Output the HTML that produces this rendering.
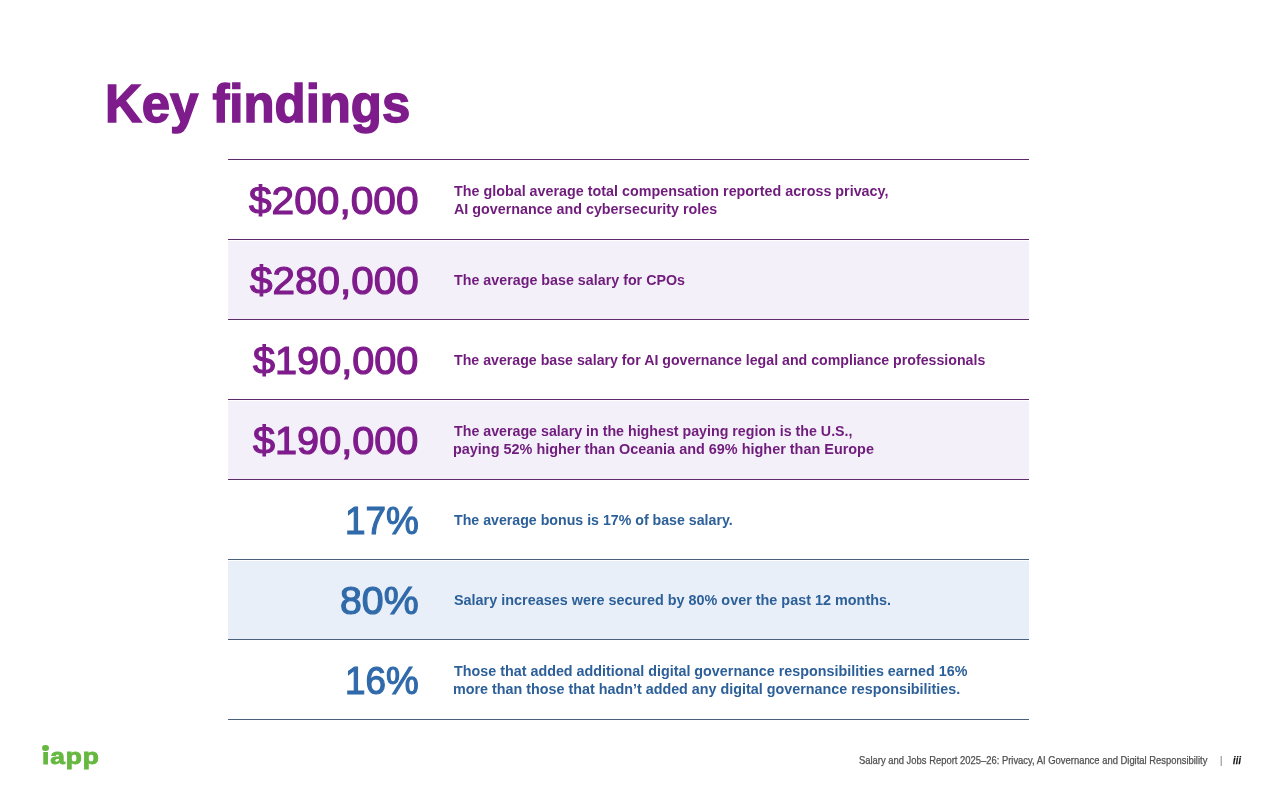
<!DOCTYPE html>
<html lang="en">
<head>
<meta charset="utf-8">
<title>Key findings</title>
<style>
html,body{margin:0;padding:0;background:#fff;}
body{width:1280px;height:800px;position:relative;overflow:hidden;font-family:"Liberation Sans", sans-serif;}
.t{position:absolute;margin:0;padding:0;font-weight:bold;white-space:nowrap;line-height:0;transform-origin:0 0;}
.t::before{content:"";display:inline-block;height:0;}
.bg{position:absolute;left:228px;width:801px;height:78px;}
.ln{position:absolute;left:228px;width:801px;height:1px;}
.dotbg{position:absolute;left:41px;top:743px;width:9px;height:9.1px;background:#fff;}
.dot{position:absolute;left:42.1px;top:744.9px;width:6.6px;height:5.8px;border-radius:50%;background:#66b840;}
</style>
</head>
<body>
<div class="bg" style="top:241px;background:#f3f0fa"></div>
<div class="bg" style="top:401px;background:#f3f0fa"></div>
<div class="bg" style="top:561px;background:#e8eff8"></div>
<div class="ln" style="top:159px;background:#602b6c"></div>
<div class="ln" style="top:239px;background:#602b6c"></div>
<div class="ln" style="top:319px;background:#602b6c"></div>
<div class="ln" style="top:399px;background:#602b6c"></div>
<div class="ln" style="top:479px;background:#602b6c"></div>
<div class="ln" style="top:559px;background:#4a607c"></div>
<div class="ln" style="top:639px;background:#4a607c"></div>
<div class="ln" style="top:719px;background:#4a607c"></div>
<h1 class="t h1" style="left:104.83px;top:104px;font-size:53.5px;color:#7f1c8c;transform:scaleX(0.9507);-webkit-text-stroke:1.5px #7f1c8c;">Key findings</h1>
<div class="t num" style="left:249.22px;top:200px;font-size:39.5px;color:#7f1c8c;transform:scaleX(1.0293);font-weight:normal;-webkit-text-stroke:1.2px #7f1c8c;">$200,000</div>
<div class="t num" style="left:250.11px;top:280px;font-size:39.5px;color:#7f1c8c;transform:scaleX(1.0238);font-weight:normal;-webkit-text-stroke:1.2px #7f1c8c;">$280,000</div>
<div class="t num" style="left:253.40px;top:360px;font-size:39.5px;color:#7f1c8c;transform:scaleX(1.0038);font-weight:normal;-webkit-text-stroke:1.2px #7f1c8c;">$190,000</div>
<div class="t num" style="left:253.40px;top:440px;font-size:39.5px;color:#7f1c8c;transform:scaleX(1.0038);font-weight:normal;-webkit-text-stroke:1.2px #7f1c8c;">$190,000</div>
<div class="t num" style="left:345.16px;top:520px;font-size:39.5px;color:#316aaa;transform:scaleX(0.9333);font-weight:normal;-webkit-text-stroke:1.2px #316aaa;">17%</div>
<div class="t num" style="left:340.37px;top:600px;font-size:39.5px;color:#316aaa;transform:scaleX(0.9943);font-weight:normal;-webkit-text-stroke:1.2px #316aaa;">80%</div>
<div class="t num" style="left:345.26px;top:680px;font-size:39.5px;color:#316aaa;transform:scaleX(0.9320);font-weight:normal;-webkit-text-stroke:1.2px #316aaa;">16%</div>
<div class="t txt" style="left:454.20px;top:191px;font-size:14.8px;color:#701c7c;transform:scaleX(0.9682);">The global average total compensation reported across privacy,</div>
<div class="t txt" style="left:453.98px;top:209px;font-size:14.8px;color:#701c7c;transform:scaleX(0.9667);">AI governance and cybersecurity roles</div>
<div class="t txt" style="left:454.20px;top:280px;font-size:14.8px;color:#701c7c;transform:scaleX(0.9653);">The average base salary for CPOs</div>
<div class="t txt" style="left:454.20px;top:360px;font-size:14.8px;color:#701c7c;transform:scaleX(0.9580);">The average base salary for AI governance legal and compliance professionals</div>
<div class="t txt" style="left:454.20px;top:431px;font-size:14.8px;color:#701c7c;transform:scaleX(0.9615);">The average salary in the highest paying region is the U.S.,</div>
<div class="t txt" style="left:453.30px;top:449px;font-size:14.8px;color:#701c7c;transform:scaleX(0.9752);">paying 52% higher than Oceania and 69% higher than Europe</div>
<div class="t txt" style="left:454.20px;top:520px;font-size:14.8px;color:#2d6099;transform:scaleX(0.9581);">The average bonus is 17% of base salary.</div>
<div class="t txt" style="left:453.97px;top:600px;font-size:14.8px;color:#2d6099;transform:scaleX(0.9731);">Salary increases were secured by 80% over the past 12 months.</div>
<div class="t txt" style="left:454.20px;top:671px;font-size:14.8px;color:#2d6099;transform:scaleX(0.9682);">Those that added additional digital governance responsibilities earned 16%</div>
<div class="t txt" style="left:453.30px;top:689px;font-size:14.8px;color:#2d6099;transform:scaleX(0.9685);">more than those that hadn’t added any digital governance responsibilities.</div>
<div class="t foot" style="left:859.40px;top:761px;font-size:10.1px;color:#505052;transform:scaleX(0.9327);font-weight:normal;-webkit-text-stroke:0.25px #505052;">Salary and Jobs Report 2025–26: Privacy, AI Governance and Digital Responsibility</div>
<div class="t foot" style="left:1219.65px;top:760px;font-size:11px;color:#808080;transform:scaleX(1.0000);font-weight:normal;">|</div>
<div class="t foot" style="left:1232.98px;top:761px;font-size:10.1px;color:#111111;transform:scaleX(0.8806);font-style:italic;letter-spacing:0.3px;-webkit-text-stroke:0.25px #111111;">iii</div>
<div class="t logo" style="left:41.74px;top:757px;font-size:21.4px;color:#66b840;transform:scaleX(1.2329);letter-spacing:0.7px;-webkit-text-stroke:0.8px #66b840;">iapp</div>
<div class="dotbg"></div><div class="dot"></div>
</body>
</html>
